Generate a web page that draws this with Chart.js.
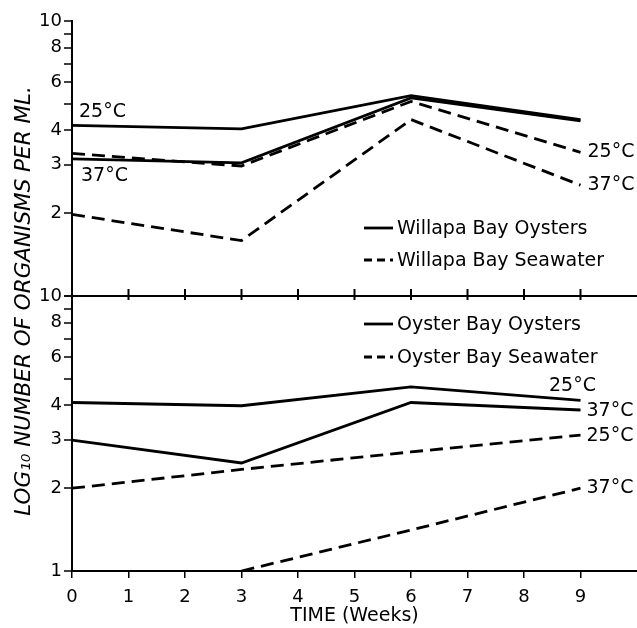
<!DOCTYPE html>
<html>
<head>
<meta charset="utf-8">
<title>Organisms per ml - Willapa Bay / Oyster Bay</title>
<script src="https://cdn.jsdelivr.net/npm/chart.js@4.4.1/dist/chart.umd.min.js"></script>
<style>
  html, body { margin: 0; padding: 0; background: #fff; }
  #wrap { width: 637px; height: 628px; }
</style>
</head>
<body>
<div id="wrap"><canvas id="chart"></canvas></div>
<script>
// weeks sampled
const weeks = [0, 3, 6, 9];

// Willapa Bay (top panel)
const willapaOysters25 = [4.17, 4.05, 5.35, 4.38];
const willapaOysters37 = [3.15, 3.05, 5.25, 4.33];
const willapaWater25 = [3.30, 2.97, 5.10, 3.33];
const willapaWater37 = [1.98, 1.59, 4.38, 2.53];

// Oyster Bay (bottom panel)
const oysterOysters25 = [4.10, 3.99, 4.67, 4.17];
const oysterOysters37 = [2.99, 2.47, 4.10, 3.85];
const oysterWater25 = [2.00, 2.34, 2.71, 3.12];
const oysterWater37 = [null, 1.00, 1.41, 2.00];

// axes
const xTicks = [0, 1, 2, 3, 4, 5, 6, 7, 8, 9];
const yTicks = [1, 2, 3, 4, 5, 6, 7, 8, 9, 10];
const yLabelsTop = [2, 3, 4, 6, 8, 10];
const yLabelsBottom = [1, 2, 3, 4, 6, 8, 10];

const legendTop = ['Willapa Bay Oysters', 'Willapa Bay Seawater'];
const legendBottom = ['Oyster Bay Oysters', 'Oyster Bay Seawater'];

const FONT = '"DejaVu Sans", sans-serif';
const DASH = [13, 7];

function series(vals) {
    return weeks.map((w, i) => ({ x: w, y: vals[i] }));
}

function line(label, vals, axis, dashed) {
    return {
        label: label,
        data: series(vals),
        yAxisID: axis,
        borderColor: '#000',
        borderWidth: 2.8,
        borderDash: dashed ? DASH : [],
        pointRadius: 0,
        tension: 0,
        fill: false,
        clip: 4
    };
}

// temperature notes: dataset index, point index, offset from the point
const notes = [
    { text: '25°C', ds: 0, pt: 0, dx: 7, dy: -13, align: 'left' },
    { text: '37°C', ds: 1, pt: 0, dx: 9, dy: 17, align: 'left' },
    { text: '25°C', ds: 2, pt: 3, dx: 7, dy: 0, align: 'left' },
    { text: '37°C', ds: 3, pt: 3, dx: 7, dy: 0, align: 'left' },
    { text: '25°C', ds: 4, pt: 3, dx: -8, dy: -14, align: 'center' },
    { text: '37°C', ds: 5, pt: 3, dx: 6, dy: 1, align: 'left' },
    { text: '25°C', ds: 6, pt: 3, dx: 6, dy: 1, align: 'left' },
    { text: '37°C', ds: 7, pt: 3, dx: 6, dy: 0, align: 'left' }
];

function drawLegend(ctx, labels, x0, y0, rowGap) {
    labels.forEach((txt, i) => {
        const y = y0 + i * rowGap;
        ctx.beginPath();
        ctx.setLineDash(i === 1 ? [8, 5] : []);
        ctx.lineWidth = 2.8;
        ctx.moveTo(x0, y);
        ctx.lineTo(x0 + 29, y);
        ctx.stroke();
        ctx.setLineDash([]);
        ctx.textAlign = 'left';
        ctx.textBaseline = 'middle';
        ctx.fillText(txt, x0 + 33, y + 1);
    });
}

const overlay = {
    id: 'overlay',
    afterDraw(chart) {
        const { ctx, chartArea, scales } = chart;
        const x = scales.x, yt = scales.yTop, yb = scales.yBottom;
        ctx.save();
        ctx.strokeStyle = '#000';
        ctx.fillStyle = '#000';

        // tick marks on the middle dividing axis
        const mid = yt.getPixelForValue(1);
        ctx.lineWidth = 2;
        xTicks.slice(1).forEach(v => {
            const px = x.getPixelForValue(v);
            ctx.beginPath();
            ctx.moveTo(px, mid - 7);
            ctx.lineTo(px, mid + 4);
            ctx.stroke();
        });

        // temperature notes
        ctx.font = '19px ' + FONT;
        ctx.textBaseline = 'middle';
        notes.forEach(n => {
            const el = chart.getDatasetMeta(n.ds).data[n.pt];
            ctx.textAlign = n.align;
            ctx.fillText(n.text, el.x + n.dx, el.y + n.dy);
        });

        // legends inside each panel
        drawLegend(ctx, legendTop, chartArea.left + 292, yt.top + 207, 32);
        drawLegend(ctx, legendBottom, chartArea.left + 292, yb.top + 28, 33);

        // shared y title
        ctx.font = 'italic 21.5px ' + FONT;
        ctx.translate(24, (chartArea.top + chartArea.bottom) / 2 + 5);
        ctx.rotate(-Math.PI / 2);
        ctx.textAlign = 'center';
        ctx.textBaseline = 'middle';
        ctx.fillText('LOG₁₀ NUMBER OF ORGANISMS PER ML.', 0, 0);
        ctx.restore();
    }
};

function logAxis(labels, gridAt) {
    return {
        type: 'logarithmic',
        position: 'left',
        stack: 'panels',
        stackWeight: 1,
        min: 1,
        max: 10,
        afterBuildTicks: s => { s.ticks = yTicks.map(v => ({ value: v })); },
        afterFit: s => { s.width = 72; },
        border: { display: true, color: '#000', width: 2 },
        grid: {
            drawOnChartArea: true,
            color: c => (c.tick && c.tick.value === gridAt) ? '#000' : 'rgba(0,0,0,0)',
            lineWidth: 2,
            tickColor: '#000',
            tickWidth: 1.5,
            tickLength: 8
        },
        ticks: {
            color: '#000',
            padding: 2,
            font: { family: FONT, size: 18 },
            autoSkip: false,
            callback: v => labels.includes(v) ? String(v) : ''
        }
    };
}

new Chart(document.getElementById('chart'), {
    type: 'line',
    data: {
        datasets: [
            line('Willapa Bay Oysters 25°C', willapaOysters25, 'yTop', false),
            line('Willapa Bay Oysters 37°C', willapaOysters37, 'yTop', false),
            line('Willapa Bay Seawater 25°C', willapaWater25, 'yTop', true),
            line('Willapa Bay Seawater 37°C', willapaWater37, 'yTop', true),
            line('Oyster Bay Oysters 25°C', oysterOysters25, 'yBottom', false),
            line('Oyster Bay Oysters 37°C', oysterOysters37, 'yBottom', false),
            line('Oyster Bay Seawater 25°C', oysterWater25, 'yBottom', true),
            line('Oyster Bay Seawater 37°C', oysterWater37, 'yBottom', true)
        ]
    },
    options: {
        responsive: true,
        maintainAspectRatio: false,
        animation: false,
        layout: { padding: { top: 21, right: 0, left: 0, bottom: 0 } },
        plugins: {
            legend: { display: false },
            tooltip: { enabled: false }
        },
        scales: {
            x: {
                type: 'linear',
                min: 0,
                max: 10,
                afterBuildTicks: s => { s.ticks = xTicks.map(v => ({ value: v })); },
                afterFit: s => { s.height = 57; },
                border: { display: true, color: '#000', width: 2 },
                grid: { drawOnChartArea: false, color: '#000', lineWidth: 1.5, tickLength: 7 },
                ticks: {
                    color: '#000',
                    padding: 9,
                    maxRotation: 0,
                    autoSkip: false,
                    font: { family: FONT, size: 18 },
                    callback: v => String(v)
                },
                title: {
                    display: true,
                    text: 'TIME (Weeks)',
                    color: '#000',
                    font: { family: FONT, size: 19 },
                    padding: { top: 2, bottom: 1 }
                }
            },
            // left boxes are stacked bottom-up, so the lower panel comes first
            yBottom: logAxis(yLabelsBottom, 10),
            yTop: logAxis(yLabelsTop, 1)
        }
    },
    plugins: [overlay]
});
</script>
</body>
</html>
